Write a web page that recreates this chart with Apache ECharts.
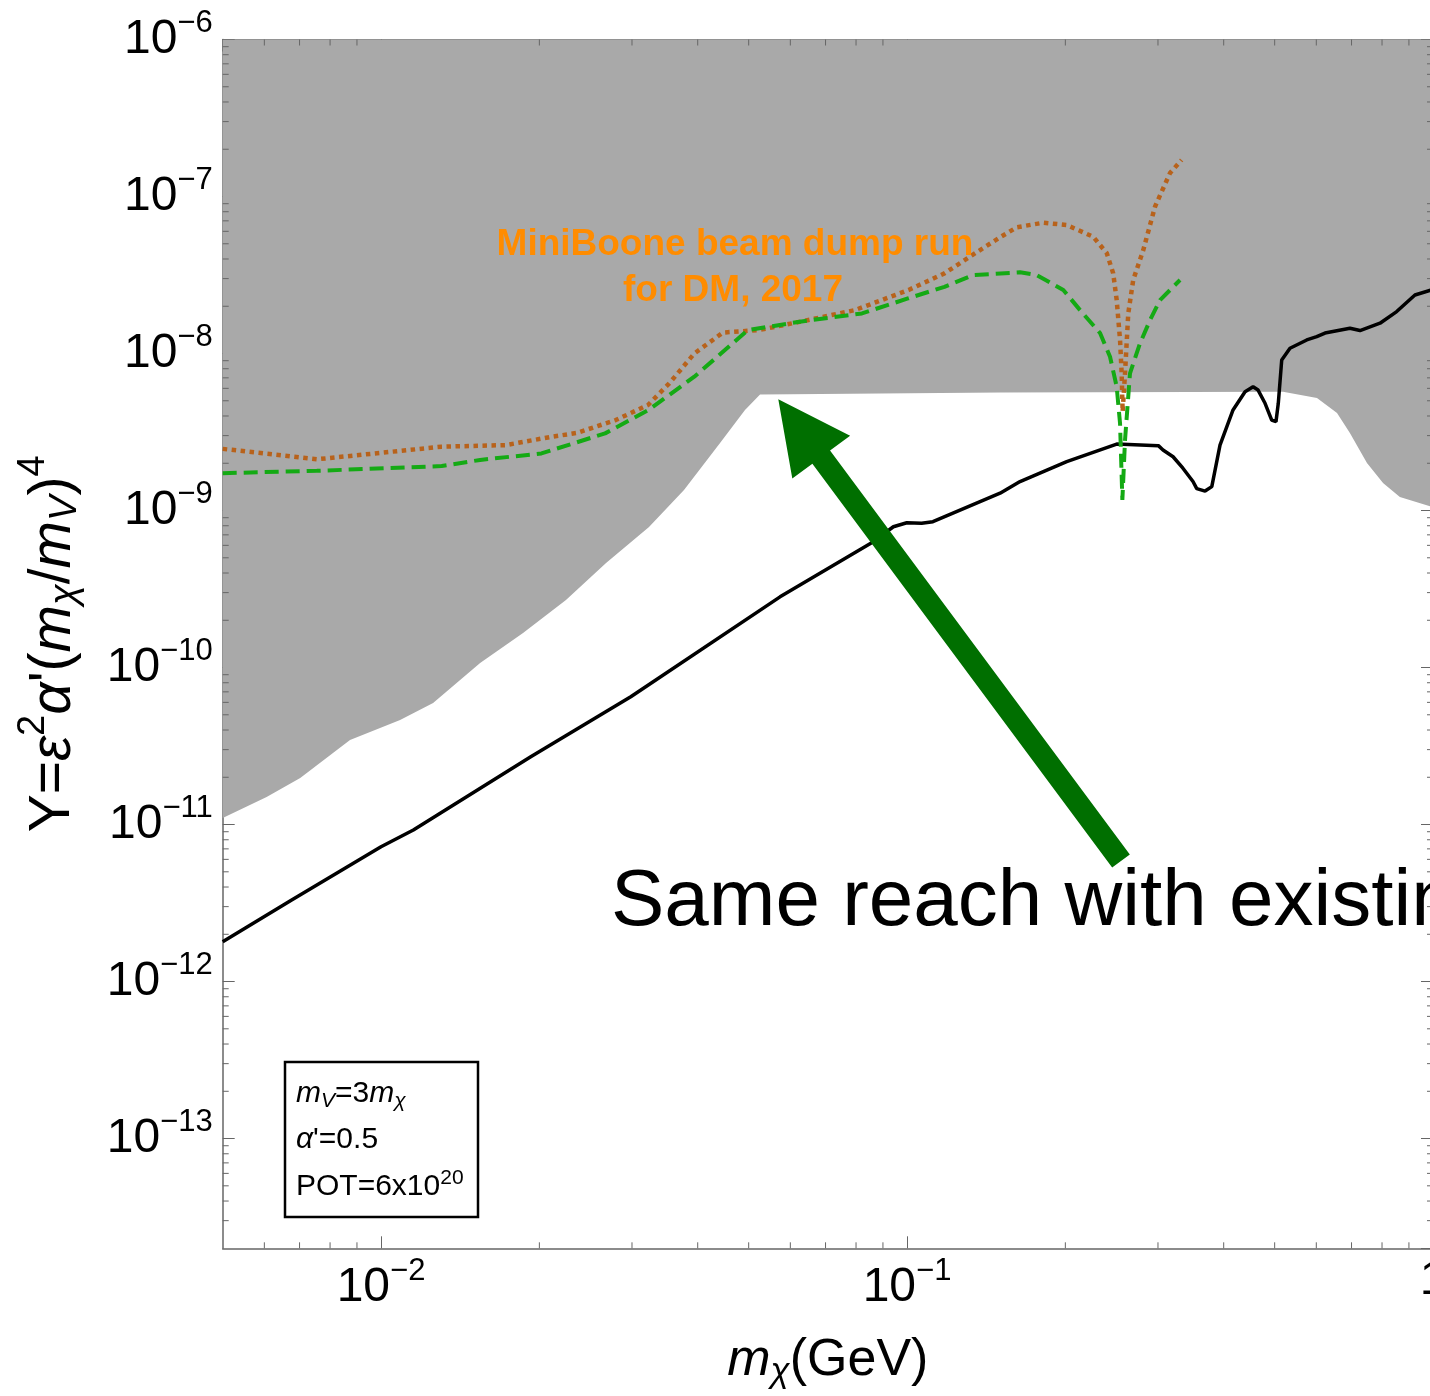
<!DOCTYPE html>
<html>
<head>
<meta charset="utf-8">
<title>MiniBooNE dark matter reach</title>
<script src="https://cdn.jsdelivr.net/npm/echarts@6/dist/echarts.min.js"></script>
<style>
    html, body { margin: 0; padding: 0; background: #fff; }
    #main { width: 1430px; height: 1396px; }
</style>
</head>
<body>
<div id="main"></div>
<script>
var FONT = '"Liberation Sans", Arial, Helvetica, sans-serif';
var AXIS = '#666';

// lower edge of the grey (already excluded) region: [m_chi GeV, Y]
var excludedEdge = [
    [0.005, 1.10e-11], [0.00606, 1.50e-11], [0.00702, 1.98e-11], [0.00873, 3.45e-11],
    [0.01087, 4.63e-11], [0.01256, 5.94e-11], [0.01543, 1.07e-10], [0.01862, 1.66e-10],
    [0.02247, 2.69e-10], [0.02678, 4.63e-10], [0.03232, 7.85e-10], [0.03767, 1.35e-9],
    [0.04411, 2.69e-9], [0.0492, 4.37e-9], [0.05255, 5.48e-9], [0.1503, 5.65e-9],
    [0.5186, 5.71e-9], [0.6018, 5.21e-9], [0.6569, 4.18e-9], [0.695, 3.12e-9],
    [0.749, 2.01e-9], [0.8035, 1.50e-9], [0.865, 1.22e-9], [1.0, 1.05e-9]
];

// black solid curve
var reachLine = [
    [0.005, 1.79e-12], [0.00675, 3.30e-12], [0.01, 7.22e-12], [0.01152, 9.23e-12],
    [0.01926, 2.70e-11], [0.02984, 6.52e-11], [0.05736, 2.82e-10], [0.0863, 6.33e-10],
    [0.0942, 7.88e-10], [0.0999, 8.36e-10], [0.1066, 8.29e-10], [0.112, 8.49e-10],
    [0.1503, 1.29e-9], [0.164, 1.53e-9], [0.2012, 2.05e-9], [0.2504, 2.65e-9],
    [0.3005, 2.59e-9], [0.3067, 2.43e-9], [0.3205, 2.20e-9], [0.3346, 1.86e-9],
    [0.3497, 1.53e-9], [0.3555, 1.38e-9], [0.3687, 1.33e-9], [0.3797, 1.42e-9],
    [0.3936, 2.61e-9], [0.4167, 4.37e-9], [0.4392, 5.71e-9], [0.4549, 6.14e-9],
    [0.4650, 5.85e-9], [0.4794, 4.82e-9], [0.4936, 3.77e-9], [0.5029, 3.68e-9],
    [0.5080, 4.82e-9], [0.5157, 9.10e-9], [0.5347, 1.08e-8], [0.5754, 1.22e-8],
    [0.6011, 1.28e-8], [0.6232, 1.35e-8], [0.6952, 1.45e-8], [0.7264, 1.40e-8],
    [0.7930, 1.56e-8], [0.853, 1.85e-8], [0.924, 2.36e-8], [1.0, 2.56e-8]
];

// MiniBooNE beam dump run (orange dotted)
var miniBooneLine = [
    [0.005, 2.47e-9], [0.00755, 2.12e-9], [0.01304, 2.55e-9], [0.01726, 2.61e-9],
    [0.0211, 2.95e-9], [0.02358, 3.12e-9], [0.02794, 3.77e-9], [0.03218, 4.70e-9],
    [0.03532, 6.46e-9], [0.03941, 1.00e-8], [0.04467, 1.36e-8], [0.05224, 1.41e-8],
    [0.0630, 1.60e-8], [0.0796, 1.89e-8], [0.1007, 2.54e-8], [0.1178, 3.24e-8],
    [0.1377, 4.56e-8], [0.1503, 5.5e-8], [0.1617, 6.37e-8], [0.1816, 6.81e-8],
    [0.2012, 6.58e-8], [0.226, 5.54e-8], [0.2398, 4.35e-8], [0.2466, 3.24e-8],
    [0.2504, 2.19e-8], [0.2541, 1.22e-8], [0.2559, 7.48e-9], [0.2570, 4.26e-9],
    [0.2597, 7.48e-9], [0.2634, 1.80e-8], [0.2692, 2.94e-8], [0.2813, 4.56e-8],
    [0.2961, 8.61e-8], [0.3162, 1.41e-7], [0.3327, 1.71e-7]
];

// Nucleon (green dashed)
var nucleonLine = [
    [0.005, 1.73e-9], [0.00755, 1.79e-9], [0.01304, 1.92e-9], [0.01543, 2.10e-9],
    [0.02018, 2.31e-9], [0.02667, 3.10e-9], [0.03227, 4.37e-9], [0.03941, 7.12e-9],
    [0.04984, 1.41e-8], [0.0630, 1.60e-8], [0.0821, 1.80e-8], [0.1007, 2.25e-8],
    [0.1178, 2.66e-8], [0.1335, 3.16e-8], [0.164, 3.29e-8], [0.1765, 3.16e-8],
    [0.1982, 2.54e-8], [0.2133, 1.89e-8], [0.2328, 1.35e-8], [0.2432, 9.54e-9],
    [0.2504, 6.14e-9], [0.2541, 3.59e-9], [0.2567, 1.17e-9], [0.2597, 2.81e-9],
    [0.2654, 7.48e-9], [0.2773, 1.16e-8], [0.2897, 1.63e-8], [0.3027, 2.19e-8],
    [0.3304, 2.94e-8]
];

// minor tick positions (2..9 times each decade)
var minorSteps = [2, 3, 4, 5, 6, 7, 8, 9];
var xDecades = [0.001, 0.01, 0.1];
var yDecades = [1e-14, 1e-13, 1e-12, 1e-11, 1e-10, 1e-9, 1e-8, 1e-7];
var xMinor = [], yMinor = [];
xDecades.forEach(function (d) {
    minorSteps.forEach(function (s) { var v = d * s; if (v > 0.005 && v < 1) xMinor.push([v, 1e-9]); });
});
yDecades.forEach(function (d) {
    minorSteps.forEach(function (s) { var v = d * s; if (v > 2e-14 && v < 1e-6) yMinor.push([0.1, v]); });
});

var labelRich = {
    b: { fontSize: 48, fontFamily: FONT, color: '#000' },
    s: { fontSize: 31, fontFamily: FONT, color: '#000', padding: [0, 0, 32, 0] }
};
function powLabel(v) {
    var e = Math.round(Math.log10(v));
    if (e === 0) return '{b|1}';
    return '{b|10}{s|' + (e < 0 ? '\u2212' + (-e) : e) + '}';
}

var nameRich = {
    n: { fontSize: 52, fontFamily: FONT, color: '#000' },
    i: { fontSize: 52, fontFamily: FONT, fontStyle: 'italic', color: '#000' },
    sub: { fontSize: 35, fontFamily: FONT, fontStyle: 'italic', color: '#000', padding: [22, 0, 0, 0] },
    sup: { fontSize: 35, fontFamily: FONT, color: '#000', padding: [0, 0, 36, 0] }
};
var yNameRich = {
    n: { fontSize: 57, fontFamily: FONT, color: '#000' },
    i: { fontSize: 57, fontFamily: FONT, fontStyle: 'italic', color: '#000' },
    sub: { fontSize: 38, fontFamily: FONT, fontStyle: 'italic', color: '#000', padding: [24, 0, 0, 0] },
    sup: { fontSize: 38, fontFamily: FONT, color: '#000', padding: [0, 0, 40, 0] }
};

function baseAxis(pos) {
    return {
        type: 'log', logBase: 10, position: pos,
        axisLine: { show: true, onZero: false, lineStyle: { color: AXIS, width: 1.5 } },
        axisTick: { show: true, inside: true, length: 12, lineStyle: { color: AXIS, width: 1 } },
        splitLine: { show: false },
        minorTick: { show: false }
    };
}

var xBottom = baseAxis('bottom');
xBottom.min = 0.005; xBottom.max = 1;
xBottom.axisLabel = { formatter: powLabel, rich: labelRich, margin: 8, showMinLabel: false, showMaxLabel: true };
xBottom.name = '{i|m}{sub|\u03c7}{n|(GeV)}';
xBottom.nameLocation = 'middle';
xBottom.nameGap = 84;
xBottom.nameTextStyle = { rich: nameRich };
var xTop = baseAxis('top');
xTop.min = 0.005; xTop.max = 1;
xTop.axisLabel = { show: false };

var yLeft = baseAxis('left');
yLeft.min = 2e-14; yLeft.max = 1e-6;
yLeft.axisLabel = { formatter: powLabel, rich: labelRich, margin: 10, showMinLabel: false };
yLeft.name = '{n|Y=}{i|\u03b5}{sup|2}{i|\u03b1}{n|\'(}{i|m}{sub|\u03c7}{n|/}{i|m}{sub|V}{n|)}{sup|4}';
yLeft.nameLocation = 'middle';
yLeft.nameRotate = 90;
yLeft.nameGap = 130;
yLeft.nameTextStyle = { rich: yNameRich };
var yRight = baseAxis('right');
yRight.min = 2e-14; yRight.max = 1e-6;
yRight.axisLabel = { show: false };

function tickLine(x1, y1, x2, y2) {
    return { type: 'line', shape: { x1: x1, y1: y1, x2: x2, y2: y2 }, style: { stroke: AXIS, lineWidth: 1 } };
}

// arrow polygon from tail to tip (pixels)
function arrowPoints(tail, tip, shaftHalf, headLen, headHalf) {
    var dx = tip[0] - tail[0], dy = tip[1] - tail[1];
    var len = Math.sqrt(dx * dx + dy * dy);
    var ux = dx / len, uy = dy / len, nx = -uy, ny = ux;
    var bx = tip[0] - ux * headLen, by = tip[1] - uy * headLen;
    return [
        [tail[0] + nx * shaftHalf, tail[1] + ny * shaftHalf],
        [bx + nx * shaftHalf, by + ny * shaftHalf],
        [bx + nx * headHalf, by + ny * headHalf],
        tip,
        [bx - nx * headHalf, by - ny * headHalf],
        [bx - nx * shaftHalf, by - ny * shaftHalf],
        [tail[0] - nx * shaftHalf, tail[1] - ny * shaftHalf]
    ];
}

var boxRich = {
    n: { fontSize: 30, fontFamily: FONT, color: '#000' },
    i: { fontSize: 30, fontFamily: FONT, fontStyle: 'italic', color: '#000' },
    sub: { fontSize: 21, fontFamily: FONT, fontStyle: 'italic', color: '#000', padding: [14, 0, 0, 0] },
    sup: { fontSize: 21, fontFamily: FONT, color: '#000', padding: [0, 0, 18, 0] }
};

var myChart = echarts.init(document.getElementById('main'));
var option = {
    animation: false,
    backgroundColor: '#fff',
    grid: { left: 222.7, top: 39.5, width: 1210.3, height: 1208.8, containLabel: false, outerBoundsMode: 'none' },
    xAxis: [xBottom, xTop],
    yAxis: [yLeft, yRight],
    series: [
        {
            name: 'excluded', type: 'line', data: excludedEdge, symbol: 'none', silent: true, z: 1,
            lineStyle: { width: 0 },
            areaStyle: { color: '#a9a9a9', opacity: 1, origin: 'end' }
        },
        {
            name: 'reach', type: 'line', data: reachLine, symbol: 'none', z: 3,
            lineStyle: { color: '#000', width: 3.5 }
        },
        {
            name: 'MiniBooNE', type: 'line', data: miniBooneLine, symbol: 'none', z: 4,
            lineStyle: { color: '#b8621b', width: 4.5, type: [4.5, 4.5] }
        },
        {
            name: 'Nucleon', type: 'line', data: nucleonLine, symbol: 'none', z: 5,
            lineStyle: { color: '#14aa14', width: 4, type: [14, 7] }
        },
        {
            type: 'custom', data: xMinor, silent: true, z: 6, clip: false,
            encode: { x: 0, y: 1 },
            renderItem: function (params, api) {
                var cs = params.coordSys;
                var x = api.coord([api.value(0), 1e-9])[0];
                return { type: 'group', children: [
                    tickLine(x, cs.y + cs.height, x, cs.y + cs.height - 6),
                    tickLine(x, cs.y, x, cs.y + 6)
                ] };
            }
        },
        {
            type: 'custom', data: yMinor, silent: true, z: 6, clip: false,
            encode: { x: 0, y: 1 },
            renderItem: function (params, api) {
                var cs = params.coordSys;
                var y = api.coord([0.1, api.value(1)])[1];
                return { type: 'group', children: [
                    tickLine(cs.x, y, cs.x + 6, y),
                    tickLine(cs.x + cs.width, y, cs.x + cs.width - 6, y)
                ] };
            }
        }
    ],
    graphic: [
        {
            type: 'group', z: 50,
            children: [
                { type: 'rect', shape: { x: 322, y: 444, width: 119, height: 53, r: 9 },
                  style: { fill: '#fff', stroke: '#000', lineWidth: 2.5 } },
                { type: 'text', x: 381.5, y: 471,
                  style: { text: 'Nucleon', fill: '#14aa14', font: '26px ' + FONT, align: 'center', verticalAlign: 'middle' } }
            ]
        },
        {
            type: 'text', x: 735, y: 245, z: 50,
            style: { text: 'MiniBoone beam dump run', fill: '#ff8c00', font: 'bold 37px ' + FONT, align: 'center', verticalAlign: 'middle' }
        },
        {
            type: 'text', x: 733, y: 291, z: 50,
            style: { text: 'for DM, 2017', fill: '#ff8c00', font: 'bold 37px ' + FONT, align: 'center', verticalAlign: 'middle' }
        },
        {
            type: 'polygon', z: 50,
            shape: { points: arrowPoints([1121, 861], [778.3, 399.3], 11, 72, 36) },
            style: { fill: '#006f00' }
        },
        {
            type: 'text', x: 611, y: 903, z: 50,
            style: { text: 'Same reach with existing', fill: '#000', font: '80px ' + FONT, align: 'left', verticalAlign: 'middle' }
        },
        {
            type: 'group', z: 50,
            children: [
                { type: 'rect', shape: { x: 285, y: 1062, width: 193, height: 155 },
                  style: { fill: '#fff', stroke: '#000', lineWidth: 2.5 } },
                { type: 'text', x: 296, y: 1094,
                  style: { text: '{i|m}{sub|V}{n|=3}{i|m}{sub|\u03c7}', rich: boxRich, verticalAlign: 'middle' } },
                { type: 'text', x: 296, y: 1140,
                  style: { text: '{i|\u03b1}{n|\'=0.5}', rich: boxRich, verticalAlign: 'middle' } },
                { type: 'text', x: 296, y: 1187,
                  style: { text: '{n|POT=6x10}{sup|20}', rich: boxRich, verticalAlign: 'middle' } }
            ]
        }
    ]
};
myChart.setOption(option);
</script>
</body>
</html>
